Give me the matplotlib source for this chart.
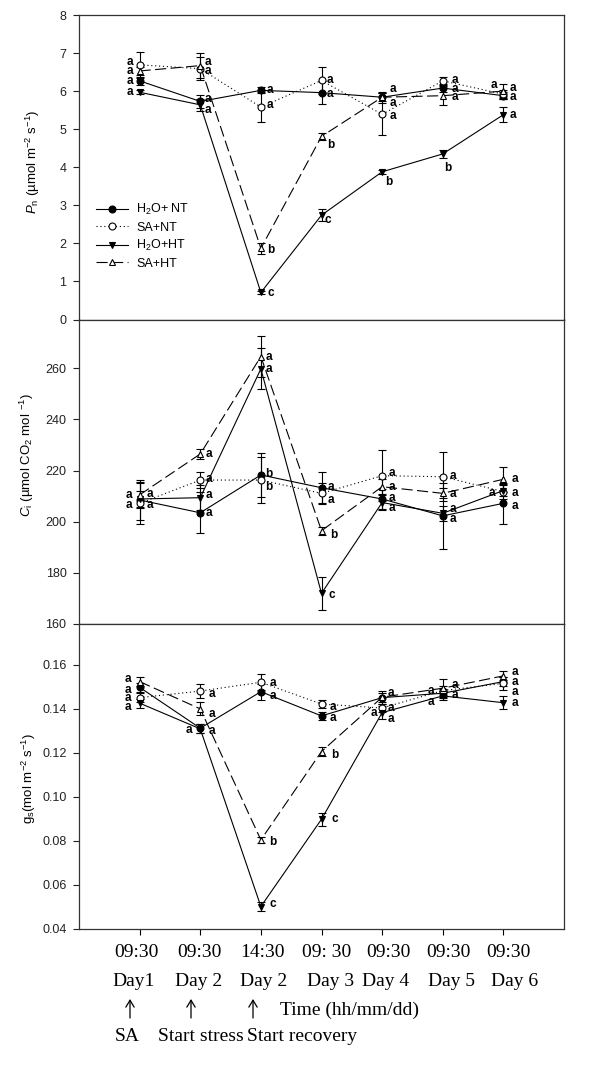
import matplotlib
matplotlib.use("Agg")
import matplotlib.pyplot as plt
from matplotlib.lines import Line2D

plt.rcParams['font.family'] = ['Liberation Sans', 'DejaVu Sans']
plt.rcParams['mathtext.fontset'] = 'custom'
plt.rcParams['mathtext.rm'] = 'Liberation Sans'
plt.rcParams['mathtext.it'] = 'Liberation Sans:italic'
plt.rcParams['mathtext.bf'] = 'Liberation Sans:bold'

# ---------------- data ----------------
days = [1, 2, 3, 4, 5, 6, 7]
time_labels = ["09:30", "09:30", "14:30", "09: 30", "09:30", "09:30", "09:30"]
day_labels = ["Day1", "Day 2", "Day 2", "Day 3", "Day 4", "Day 5", "Day 6"]
series_names = ["H$_2$O+ NT", "SA+NT", "H$_2$O+HT", "SA+HT"]

# Net photosynthesis Pn
pn_h2o_nt = [6.27, 5.73, 6.02, 5.96, 5.84, 6.08, 5.88]
pn_sa_nt = [6.69, 6.59, 5.58, 6.28, 5.39, 6.27, 5.92]
pn_h2o_ht = [5.97, 5.64, 0.71, 2.74, 3.88, 4.35, 5.38]
pn_sa_ht = [6.53, 6.67, 1.87, 4.81, 5.84, 5.88, 6.00]
pn_h2o_nt_err = [0.10, 0.18, 0.08, 0.30, 0.10, 0.10, 0.10]
pn_sa_nt_err = [0.35, 0.30, 0.40, 0.35, 0.55, 0.10, 0.10]
pn_h2o_ht_err = [0.05, 0.15, 0.05, 0.15, 0.05, 0.10, 0.20]
pn_sa_ht_err = [0.10, 0.33, 0.15, 0.10, 0.15, 0.25, 0.20]
pn_h2o_nt_let = ["a", "a", "a", "a", "a", "a", "a"]
pn_sa_nt_let = ["a", "a", "a", "a", "a", "a", "a"]
pn_h2o_ht_let = ["a", "a", "c", "c", "b", "b", "a"]
pn_sa_ht_let = ["a", "a", "b", "b", "a", "a", "a"]

# Intercellular CO2 Ci
ci_h2o_nt = [208.5, 203.5, 218.3, 213.3, 208.9, 202.3, 207.2]
ci_sa_nt = [207.2, 216.3, 216.3, 211.1, 218.0, 217.6, 211.8]
ci_h2o_ht = [208.9, 209.4, 259.8, 172.0, 207.5, 203.3, 212.2]
ci_sa_ht = [210.5, 226.5, 264.6, 196.5, 213.7, 211.1, 216.6]
ci_h2o_nt_err = [8, 8, 8.5, 6, 4, 13, 8]
ci_sa_nt_err = [8, 3, 9, 4, 10, 9.5, 3]
ci_h2o_ht_err = [3, 5, 8, 6.5, 3, 3, 2]
ci_sa_ht_err = [5, 2, 8, 1.5, 3, 2, 5]
ci_h2o_nt_let = ["a", "a", "b", "a", "a", "a", "a"]
ci_sa_nt_let = ["a", "a", "b", "a", "a", "a", "a"]
ci_h2o_ht_let = ["a", "a", "a", "c", "a", "a", "a"]
ci_sa_ht_let = ["a", "a", "a", "b", "a", "a", "a"]

# Stomatal conductance gs
gs_h2o_nt = [0.1497, 0.1311, 0.1477, 0.1367, 0.1450, 0.1470, 0.1523]
gs_sa_nt = [0.1450, 0.1480, 0.1520, 0.1421, 0.1403, 0.1482, 0.1515]
gs_h2o_ht = [0.1425, 0.1308, 0.0500, 0.0897, 0.1382, 0.1458, 0.1427]
gs_sa_ht = [0.1523, 0.1399, 0.0803, 0.1205, 0.1452, 0.1493, 0.1549]
gs_h2o_nt_err = [0.002, 0.002, 0.0037, 0.002, 0.002, 0.002, 0.002]
gs_sa_nt_err = [0.002, 0.003, 0.0036, 0.002, 0.002, 0.002, 0.003]
gs_h2o_ht_err = [0.002, 0.002, 0.002, 0.003, 0.003, 0.002, 0.003]
gs_sa_ht_err = [0.002, 0.003, 0.0015, 0.002, 0.003, 0.004, 0.002]
gs_h2o_nt_let = ["a", "a", "a", "a", "a", "a", "a"]
gs_sa_nt_let = ["a", "a", "a", "a", "a", "a", "a"]
gs_h2o_ht_let = ["a", "a", "c", "c", "a", "a", "a"]
gs_sa_ht_let = ["a", "a", "b", "b", "a", "a", "a"]

# ---------------- layout (letter offsets in pixels: dx right, dy down) ----------------
pn_off = [
    [(-10, 0), (7.5, -2.7), (9.5, -0.7), (8.3, 1.3), (11, -8), (11.7, 0.7), (10, 1.6)],
    [(-10, -3.3), (7.5, 2.7), (9.5, -2.3), (8.3, -0.7), (11, 1.3), (11.7, -1), (-9, -9.3)],
    [(-10, 0), (7.5, 5), (9.5, 1), (6, 4.3), (6.3, 10), (5, 14.3), (10, 0.7)],
    [(-10, 0), (7.5, -3.3), (9.5, 1.7), (9.3, 8.3), (11, 6), (11.7, 1.6), (10, -3.3)],
]
ci_off = [
    [(10.7, 5), (9, 0.7), (8.3, -1), (9.3, -1), (10, -0.7), (10, 3), (11.7, 2.3)],
    [(-10.7, 1.7), (9, -0.7), (8.3, 6.7), (9.3, 6.7), (10, -2.3), (10, -1), (-11.7, 1)],
    [(10.7, -4.7), (9, -2.7), (8.3, 0.3), (10, 1.7), (10, 5), (10, -4.3), (11.7, 2)],
    [(-10.7, 0), (9, 0), (8.3, 0), (12, 4.3), (10, 0), (10, 1), (11.7, 0)],
]
gs_off = [
    [(-11.7, 2.7), (-11, 1.7), (11.7, 4), (11.7, 2.3), (9.3, 21), (11.7, 1.7), (11.7, 0)],
    [(-11.7, 0.7), (11.7, 3.3), (11.7, 1), (11.7, 3.3), (9.3, 0.3), (-12, 0), (11.7, 8.3)],
    [(-11.7, 4), (11.7, 1.7), (11.7, -2.7), (13.7, 0), (-8.3, 0.7), (-12, 5.7), (11.7, 0.7)],
    [(-11.7, -2.3), (11.7, 5.3), (11.7, 2.3), (13, 3.3), (9.3, -4), (11.7, -3.3), (11.7, -3.7)],
]

styles = [
    dict(marker='o', mfc='black', ls='-', dashes=None),
    dict(marker='o', mfc='white', ls=':', dashes=(1, 2.5)),
    dict(marker='v', mfc='black', ls='-', dashes=None),
    dict(marker='^', mfc='white', ls='--', dashes=(10, 4)),
]

W, H = 600, 1069
DPI = 100
fig = plt.figure(figsize=(W / DPI, H / DPI), dpi=DPI)
PX = 72.0 / DPI

def ax_rect(top_px, bottom_px, left_px=79, right_px=564):
    return [left_px / W, 1 - bottom_px / H, (right_px - left_px) / W, (bottom_px - top_px) / H]

ax1 = fig.add_axes(ax_rect(15, 319.5))
ax2 = fig.add_axes(ax_rect(319.5, 624))
ax3 = fig.add_axes(ax_rect(624, 928.5))

panels = [
    (ax1, [pn_h2o_nt, pn_sa_nt, pn_h2o_ht, pn_sa_ht],
     [pn_h2o_nt_err, pn_sa_nt_err, pn_h2o_ht_err, pn_sa_ht_err],
     [pn_h2o_nt_let, pn_sa_nt_let, pn_h2o_ht_let, pn_sa_ht_let], pn_off),
    (ax2, [ci_h2o_nt, ci_sa_nt, ci_h2o_ht, ci_sa_ht],
     [ci_h2o_nt_err, ci_sa_nt_err, ci_h2o_ht_err, ci_sa_ht_err],
     [ci_h2o_nt_let, ci_sa_nt_let, ci_h2o_ht_let, ci_sa_ht_let], ci_off),
    (ax3, [gs_h2o_nt, gs_sa_nt, gs_h2o_ht, gs_sa_ht],
     [gs_h2o_nt_err, gs_sa_nt_err, gs_h2o_ht_err, gs_sa_ht_err],
     [gs_h2o_nt_let, gs_sa_nt_let, gs_h2o_ht_let, gs_sa_ht_let], gs_off),
]

for ax, vals, errs, lets, offs in panels:
    for k in range(4):
        st = styles[k]
        eb = ax.errorbar(days, vals[k], yerr=errs[k], color='black', lw=0.8,
                         elinewidth=0.8, capsize=3.0, capthick=0.8,
                         marker=st['marker'], ms=5, mfc=st['mfc'], mec='black',
                         mew=0.8, ls=st['ls'], zorder=3)
        if st['dashes'] is not None:
            eb[0].set_dashes(st['dashes'])
        for i in range(len(days)):
            dx, dy = offs[k][i]
            ax.annotate(lets[k][i], xy=(days[i], vals[k][i]),
                        xytext=(dx * PX, -dy * PX), textcoords='offset points',
                        ha='center', va='center', fontsize=8.5, fontweight='bold',
                        zorder=5)
    ax.set_xlim(0, 8)
    ax.tick_params(axis='y', direction='out', length=4, width=0.8, pad=5,
                   labelsize=9, colors='#222222', right=False)
    for s in ax.spines.values():
        s.set_linewidth(0.9)
        s.set_color('#333333')

for ax in (ax1, ax2):
    ax.tick_params(axis='x', bottom=False, labelbottom=False)

ax1.set_ylim(0, 8.0)
ax1.set_yticks(range(0, 9))
ax2.set_ylim(160, 279.1)
ax2.set_yticks(range(160, 261, 20))
ax3.set_ylim(0.04, 0.1785)
ax3.set_yticks([0.04, 0.06, 0.08, 0.10, 0.12, 0.14, 0.16])
ax3.set_yticklabels(["%.2f" % v for v in [0.04, 0.06, 0.08, 0.10, 0.12, 0.14, 0.16]])
ax3.set_xticks(days)
ax3.set_xticklabels([])
ax3.tick_params(axis='x', direction='out', length=4, width=0.8)

# y labels
ax1.set_ylabel("$P_{\\mathrm{n}}$ (µmol m$^{-2}$ s$^{-1}$)", fontsize=9.5)
ax1.yaxis.set_label_coords(-0.077, 0.517)
ax2.set_ylabel("$C_{\\mathrm{i}}$ (µmol CO$_2$ mol $^{-1}$)", fontsize=9.5)
ax2.yaxis.set_label_coords(-0.088, 0.555)
ax3.set_ylabel("g$_\\mathrm{s}$(mol m$^{-2}$ s$^{-1}$)", fontsize=9.5)
ax3.yaxis.set_label_coords(-0.085, 0.494)

# legend
handles = [Line2D([0], [0], color='black', lw=0.8, ls=st['ls'], marker=st['marker'],
                  ms=5, mfc=st['mfc'], mec='black', mew=0.8) for st in styles]
for h, st in zip(handles, styles):
    if st['dashes'] is not None:
        h.set_dashes(st['dashes'])
ax1.legend(handles, series_names, loc='upper left', bbox_to_anchor=(0.035, 0.385),
           frameon=False, fontsize=9, handlelength=2.6, handletextpad=0.6,
           labelspacing=0.35, borderpad=0, borderaxespad=0)

# x labels (two rows, serif)
serif = ['Liberation Serif', 'DejaVu Serif']
time_dx = [-3, -1, 2, 5, 6, 6, 5]
day_dx = [-6, -1.5, 3, 9, 3.5, 9, 11]
for i, d in enumerate(days):
    ax3.annotate(time_labels[i], xy=(d, 0), xycoords=ax3.get_xaxis_transform(),
                 xytext=(time_dx[i] * PX, -23.8 * PX), textcoords='offset points',
                 ha='center', va='center', fontsize=14, family=serif)
    ax3.annotate(day_labels[i], xy=(d, 0), xycoords=ax3.get_xaxis_transform(),
                 xytext=(day_dx[i] * PX, -53.2 * PX), textcoords='offset points',
                 ha='center', va='center', fontsize=14, family=serif)

# arrows and event labels
for xa in [130, 191, 253]:
    fig.add_artist(matplotlib.patches.FancyArrowPatch(
        (xa / W, (H - 1018) / H), (xa / W, (H - 999) / H), transform=fig.transFigure,
        arrowstyle='->,head_length=5,head_width=3', lw=0.9, color='black',
        mutation_scale=1, shrinkA=0, shrinkB=0))
fig.text(349 / W, (H - 1010) / H, "Time (hh/mm/dd)", ha='center', va='center',
         fontsize=14, family=serif)
fig.text(115 / W, (H - 1036.7) / H, "SA", ha='left', va='center', fontsize=14, family=serif)
fig.text(158 / W, (H - 1036.7) / H, "Start stress", ha='left', va='center', fontsize=14, family=serif)
fig.text(247 / W, (H - 1036.7) / H, "Start recovery", ha='left', va='center', fontsize=14, family=serif)

fig.savefig("out.png", dpi=DPI)
